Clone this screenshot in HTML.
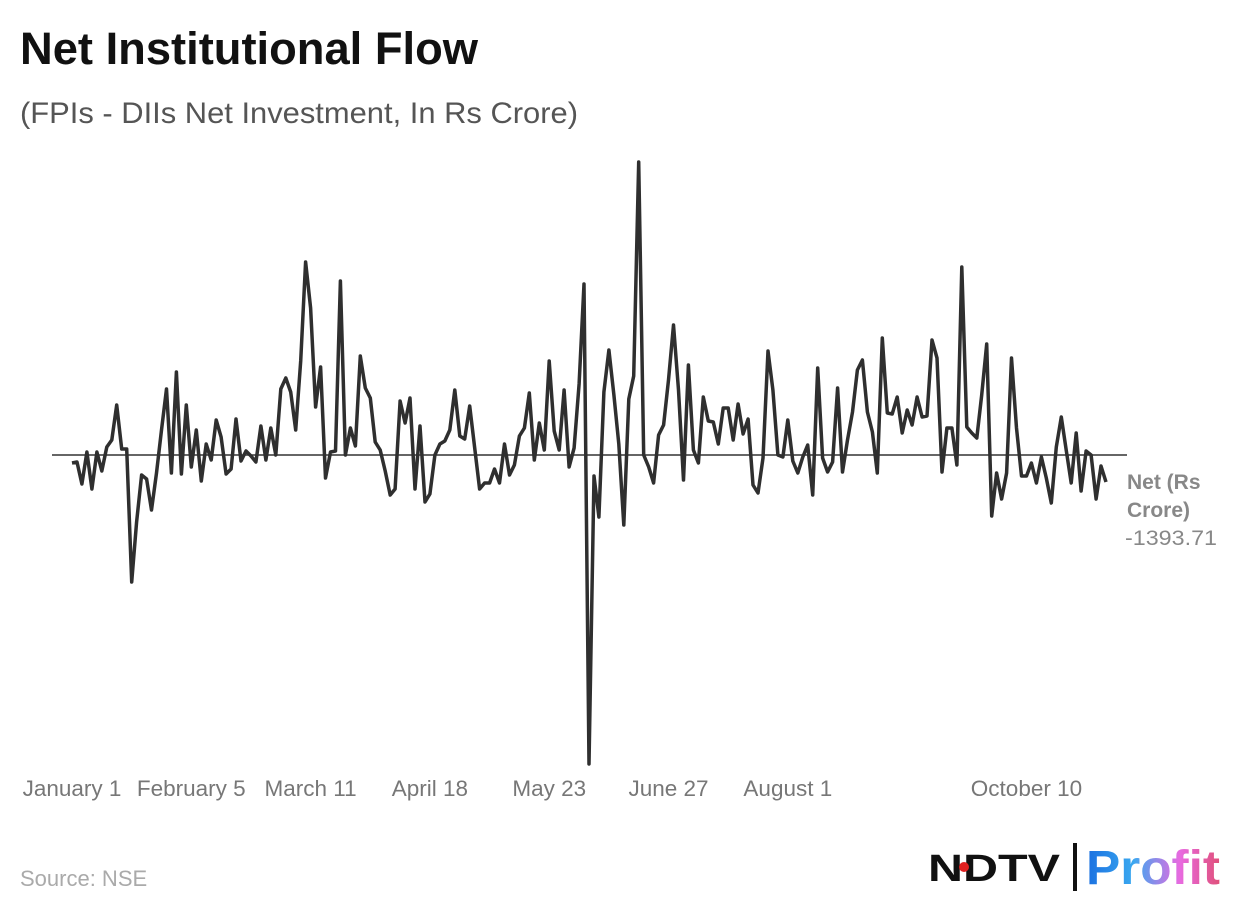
<!DOCTYPE html>
<html><head><meta charset="utf-8"><style>
body{margin:0;background:#fff;width:1240px;height:912px;overflow:hidden;font-family:"Liberation Sans",sans-serif}
</style></head><body>
<svg id="chart" width="1240" height="912" xmlns="http://www.w3.org/2000/svg">
<defs><linearGradient id="pg" x1="0" x2="1" y1="0" y2="0"><stop offset="0" stop-color="#1a6fe0"/><stop offset="0.35" stop-color="#3aa8f0"/><stop offset="0.7" stop-color="#e86ae0"/><stop offset="1" stop-color="#e0507a"/></linearGradient></defs>
<text x="20" y="64" font-size="45" font-weight="bold" fill="#111" textLength="458" lengthAdjust="spacingAndGlyphs">Net Institutional Flow</text>
<text x="20" y="123" font-size="30" fill="#555" textLength="558" lengthAdjust="spacingAndGlyphs">(FPIs - DIIs Net Investment, In Rs Crore)</text>
<line x1="52" x2="1127" y1="455" y2="455" stroke="#333" stroke-width="1.6"/>
<g id="xaxis"></g>
<path id="series" fill="none" stroke="#2f2f2f" stroke-width="3.5" stroke-linejoin="round"/>
<text x="1127" y="489" font-size="21" font-weight="bold" fill="#888">Net (Rs</text>
<text x="1127" y="517" font-size="21" font-weight="bold" fill="#888">Crore)</text>
<text id="lastval" x="1125" y="545" font-size="21" fill="#888" textLength="92" lengthAdjust="spacingAndGlyphs"></text>
<text x="20" y="886" font-size="22" fill="#aaa">Source: NSE</text>
<g>
<text x="928" y="881" font-size="38" font-weight="900" fill="#111" textLength="132" lengthAdjust="spacingAndGlyphs">NDTV</text>
<circle cx="964" cy="867" r="5" fill="#e02020"/>
<rect x="1073" y="843" width="4" height="48" fill="#111"/>
<text x="1086" y="884" font-size="48" font-weight="bold" fill="url(#pg)" textLength="134" lengthAdjust="spacingAndGlyphs">Profit</text>
</g>
</svg>
<script>
const values=[-413,-361,-1496,155,-1754,155,-826,413,774,2580,310,310,-6553,-3457,-1032,-1238,-2838,-929,1290,3406,-929,4283,-980,2580,-619,1290,-1342,568,-258,1806,929,-980,-722,1858,-310,206,-52,-361,1496,-258,1393,0,3406,3973,3251,1290,4850,9959,7585,2477,4541,-1187,155,206,8978,0,1393,464,5108,3457,2941,671,258,-826,-2064,-1754,2786,1651,2941,-1754,1496,-2425,-2012,0,568,722,1290,3354,980,826,2528,361,-1754,-1445,-1445,-722,-1445,568,-1032,-516,980,1393,3199,-258,1651,258,4850,1238,258,3354,-619,361,3664,8824,-15944,-1084,-3199,3251,5418,3096,568,-3612,2890,4076,15119,0,-619,-1445,1032,1548,3870,6708,3354,-1290,4644,258,-413,2993,1754,1703,568,2425,2425,774,2632,1084,1858,-1548,-1961,-155,5366,3354,0,-103,1806,-310,-929,-103,516,-2064,4489,-155,-877,-361,3457,-877,774,2219,4386,4902,2219,1187,-929,6037,2167,2116,2993,1135,2322,1548,2993,1961,2012,5934,5005,-877,1393,1393,-516,9701,1445,1135,877,3096,5728,-3148,-929,-2270,-929,5005,1393,-1084,-1084,-413,-1445,-103,-1187,-2477,413,1961,258,-1445,1135,-1858,206,0,-2270,-568,-1393.71];
const tickIndex=[0,24,48,72,96,120,144,192];
const tickLabels=["January 1","February 5","March 11","April 18","May 23","June 27","August 1","October 10"];
const x0=72,x1=1106;
function xScale(i){return x0+(x1-x0)*i/(values.length-1);}
function yScale(v){return 455-v/51.6;}
let d="";
values.forEach((v,i)=>{d+=(i?"L":"M")+xScale(i).toFixed(1)+" "+yScale(v).toFixed(1);});
document.getElementById("series").setAttribute("d",d);
document.getElementById("lastval").textContent=values[values.length-1].toFixed(2);
const ax=document.getElementById("xaxis");
tickIndex.forEach((ti,k)=>{
const t=document.createElementNS("http://www.w3.org/2000/svg","text");


t.setAttribute("x",xScale(ti));t.setAttribute("y",796);
t.setAttribute("text-anchor","middle");t.setAttribute("font-size","22.5");t.setAttribute("fill","#777");
t.textContent=tickLabels[k];ax.appendChild(t);});
</script>
</body></html>
